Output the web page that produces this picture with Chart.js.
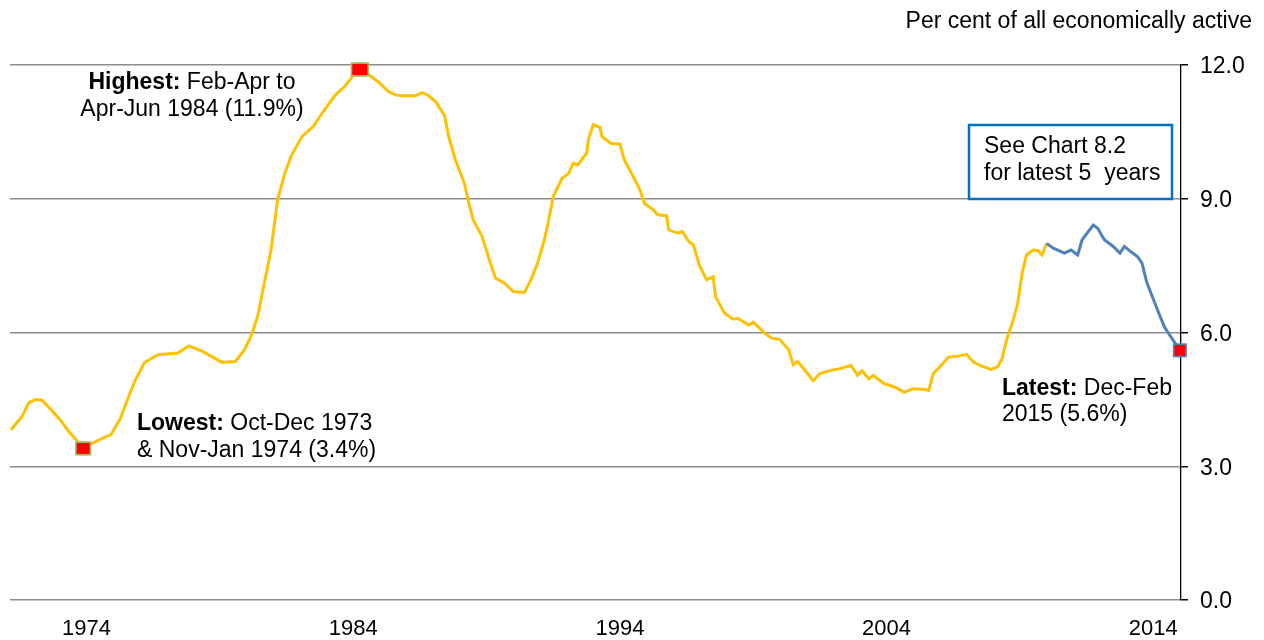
<!DOCTYPE html>
<html><head><meta charset="utf-8">
<script src="https://cdn.jsdelivr.net/npm/chart.js@4.4.1/dist/chart.umd.min.js"></script>
<style>html,body{margin:0;padding:0;background:#fff;overflow:hidden}</style>
</head><body>
<canvas id="c" width="1264" height="640"></canvas>
<script>
// ---- Data (ILO unemployment rate, per cent of economically active) ----
const longDates = ['1971-03','1971-08','1971-11','1972-02','1972-05','1972-09','1973-01','1973-05','1973-09','1973-11','1973-12',
'1974-03','1974-07','1974-12','1975-04','1975-08','1975-11','1976-03','1976-09','1977-06','1977-11','1978-05','1978-09','1979-02',
'1979-08','1979-12','1980-03','1980-06','1980-09','1980-12','1981-03','1981-06','1981-09','1982-02','1982-07','1982-12','1983-05',
'1983-09','1983-12','1984-03','1984-04','1984-05','1984-08','1984-12','1985-05','1985-08','1985-11','1986-05','1986-08','1986-11','1987-02',
'1987-06','1987-08','1987-11','1988-03','1988-05','1988-07','1988-11','1989-02','1989-05','1989-09','1990-01','1990-06','1990-09',
'1990-12','1991-03','1991-05','1991-07','1991-11','1992-02','1992-04','1992-06','1992-10','1992-11','1993-01','1993-04','1993-05',
'1993-09','1994-01','1994-03','1994-07','1994-10','1994-12','1995-04','1995-06','1995-10','1995-11','1996-03','1996-05','1996-08',
'1996-10','1997-01','1997-04','1997-07','1997-08','1997-12','1998-04','1998-06','1998-11','1999-01','1999-06','1999-09','2000-01',
'2000-05','2000-07','2000-09','2000-12','2001-04','2001-07','2001-12','2002-04','2002-09','2002-12','2003-02','2003-05','2003-07',
'2003-12','2004-04','2004-09','2005-01','2005-06','2005-08','2005-10','2006-01','2006-05','2006-09','2007-01','2007-04','2007-07',
'2007-12','2008-03','2008-05','2008-07','2008-10','2008-12','2009-02','2009-04','2009-07','2009-09','2009-11','2010-01'];
const longRates = [3.82,4.12,4.42,4.5,4.48,4.27,4.05,3.78,3.56,3.4,3.4,
3.5,3.6,3.71,4.05,4.57,4.94,5.32,5.5,5.54,5.7,5.58,5.47,5.33,
5.35,5.61,5.91,6.36,7.11,7.85,8.98,9.54,9.95,10.4,10.62,10.99,11.33,
11.51,11.7,11.9,11.9,11.9,11.78,11.63,11.4,11.33,11.31,11.31,11.38,11.31,11.18,
10.88,10.39,9.87,9.35,8.9,8.53,8.15,7.67,7.22,7.11,6.92,6.9,7.18,
7.56,8.08,8.53,9.05,9.46,9.57,9.8,9.76,10.02,10.36,10.66,10.6,10.39,
10.24,10.23,9.87,9.5,9.2,8.9,8.75,8.64,8.62,8.3,8.23,8.27,8.04,
7.97,7.48,7.18,7.25,6.81,6.44,6.3,6.32,6.17,6.23,5.99,5.88,5.84,
5.61,5.28,5.35,5.17,4.92,5.08,5.15,5.19,5.26,5.04,5.14,4.96,5.04,
4.85,4.79,4.66,4.74,4.72,4.7,5.08,5.23,5.45,5.47,5.51,5.34,5.26,
5.17,5.23,5.41,5.83,6.28,6.65,7.33,7.74,7.85,7.84,7.74,8.0];
const recentDates = ['2010-01','2010-04','2010-09','2010-12','2011-03','2011-05','2011-10','2011-12','2012-03','2012-07','2012-10',
'2012-12','2013-03','2013-06','2013-08','2013-10','2013-12','2014-03','2014-06','2014-09','2015-01'];
const recentRates = [8.0,7.89,7.78,7.85,7.74,8.08,8.41,8.34,8.08,7.93,7.78,7.93,7.81,7.7,7.55,7.14,6.88,6.5,6.13,5.9,5.6];
// Lowest (Oct-Dec 1973 & Nov-Jan 1974), highest (Feb-Apr to Apr-Jun 1984), latest (Dec-Feb 2015)
const markerDates = ['1973-11','1973-12','1984-03','1984-04','1984-05','2015-01'];
const markerRates = [3.4, 3.4, 11.9, 11.9, 11.9, 5.6];
const yearLabels = ['1974','1984','1994','2004','2014'];
const yTickValues = [0, 3, 6, 9, 12];

// ---- helpers ----
function monthIndex(s){ const p = s.split('-').map(Number); return (p[0]-1971)*12 + (p[1]-3); }
const toPts = (d, v) => d.map((s,i)=>({x: monthIndex(s), y: v[i]}));
const FONT = '"Liberation Sans", Arial, sans-serif';
Chart.defaults.font.family = FONT;
Chart.defaults.color = '#000';

function rich(ctx, parts, x, y, align){
  const f = b => (b ? 'bold ' : '') + '23px ' + FONT;
  let w = 0;
  parts.forEach(p => { ctx.font = f(p[1]); w += ctx.measureText(p[0]).width; });
  let cx = align === 'center' ? x - w/2 : (align === 'right' ? x - w : x);
  ctx.textAlign = 'left'; ctx.textBaseline = 'middle'; ctx.fillStyle = '#000';
  parts.forEach(p => { ctx.font = f(p[1]); ctx.fillText(p[0], cx, y); cx += ctx.measureText(p[0]).width; });
}

const annotations = {
  id: 'annotations',
  afterDraw(chart){
    const ctx = chart.ctx;
    ctx.save();
    rich(ctx, [['Per cent of all economically active', false]], 1252, 22, 'right');
    rich(ctx, [['Highest:', true], [' Feb-Apr to', false]], 192, 83, 'center');
    rich(ctx, [['Apr-Jun 1984 (11.9%)', false]], 192, 110, 'center');
    rich(ctx, [['Lowest:', true], [' Oct-Dec 1973', false]], 137, 424, 'left');
    rich(ctx, [['& Nov-Jan 1974 (3.4%)', false]], 137, 451, 'left');
    rich(ctx, [['Latest:', true], [' Dec-Feb', false]], 1002, 389, 'left');
    rich(ctx, [['2015 (5.6%)', false]], 1002, 415, 'left');
    ctx.strokeStyle = '#0070C0'; ctx.lineWidth = 2.5;
    ctx.strokeRect(969, 125, 203, 74);
    rich(ctx, [['See Chart 8.2', false]], 984, 147, 'left');
    rich(ctx, [['for latest 5  years', false]], 984, 174, 'left');
    ctx.restore();
  }
};

const edgeColors = ['#9BBB59','#9BBB59','#9BBB59','#9BBB59','#9BBB59','#4F81BD'];

new Chart(document.getElementById('c'), {
  type: 'line',
  data: {
    datasets: [
      { label: 'markerFill', data: toPts(markerDates, markerRates), showLine: false, clip: false,
        pointStyle: 'rect', pointRadius: 7.6, pointBackgroundColor: '#FF0000', pointBorderWidth: 0 },
      { label: 'markerEdge', data: toPts(markerDates, markerRates), showLine: false, clip: false,
        pointStyle: 'rect', pointRadius: 9.9, pointBackgroundColor: edgeColors, pointBorderWidth: 0 },
      { label: 'recent', data: toPts(recentDates, recentRates), borderColor: '#4F81BD', borderWidth: 3,
        pointRadius: 0, tension: 0, fill: false },
      { label: 'long', data: toPts(longDates, longRates), borderColor: '#FFC000', borderWidth: 3,
        pointRadius: 0, tension: 0, fill: false }
    ]
  },
  options: {
    responsive: false, animation: false, devicePixelRatio: 1,
    layout: { padding: { top: 65, left: 6, right: 0, bottom: 0 } },
    plugins: { legend: { display: false }, tooltip: { enabled: false } },
    scales: {
      x: {
        type: 'linear', position: 'bottom', min: -0.5, max: 526.5,
        grid: { display: false, drawTicks: false }, border: { display: false },
        afterBuildTicks: ax => { ax.ticks = yearLabels.map(y => ({ value: monthIndex(y + '-01') })); },
        ticks: { autoSkip: false, maxRotation: 0, padding: 16, font: { size: 22 }, color: '#000',
          callback: v => { const i = yearLabels.findIndex(y => monthIndex(y + '-01') === v); return i >= 0 ? yearLabels[i] : ''; } },
        afterFit: ax => { ax.height = 40; }
      },
      y: {
        position: 'right', min: 0, max: 12,
        afterBuildTicks: ax => { ax.ticks = yTickValues.map(v => ({ value: v })); },
        ticks: { padding: 12, labelOffset: 2, font: { size: 23 }, color: '#000', callback: v => Number(v).toFixed(1) },
        grid: { color: '#8c8c8c', lineWidth: 1.5, tickColor: '#000', tickLength: 7, drawTicks: true },
        border: { display: true, color: '#000', width: 1.3 },
        afterFit: ax => { ax.width = 83; }
      }
    }
  },
  plugins: [annotations]
});
</script>
</body></html>
